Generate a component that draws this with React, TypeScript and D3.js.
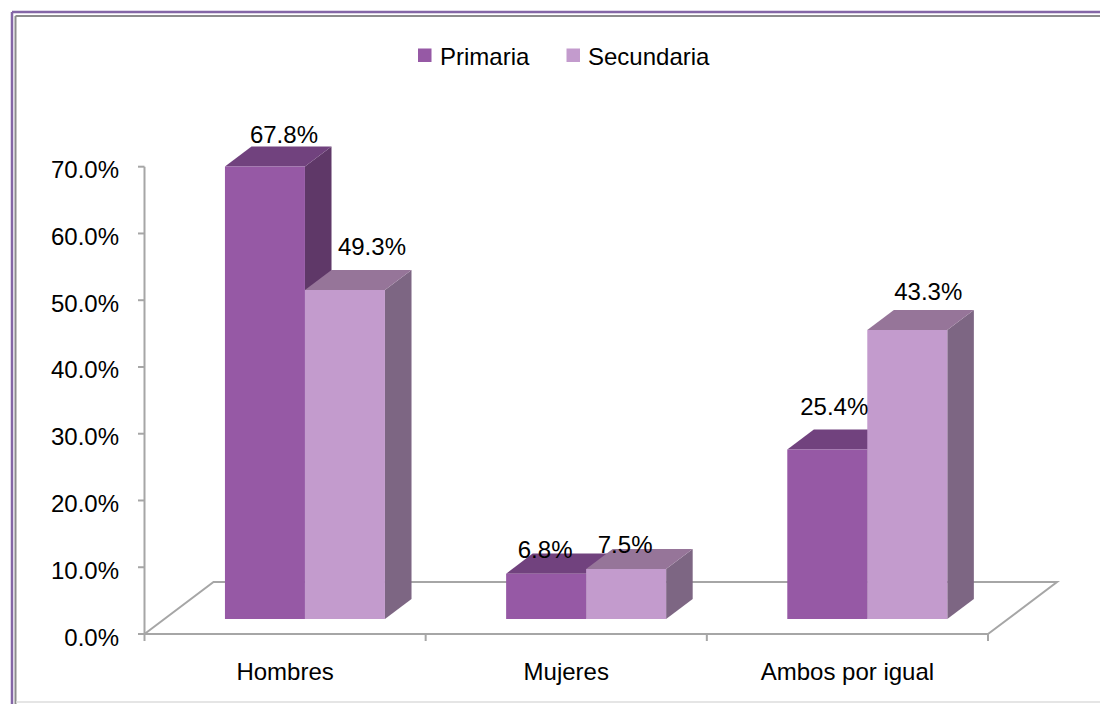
import React from "react";
import * as d3 from "d3";

const categories = ["Hombres", "Mujeres", "Ambos por igual"];
const seriesNames = ["Primaria", "Secundaria"];
const primaria = [67.8, 6.8, 25.4];
const secundaria = [49.3, 7.5, 43.3];
const yTicks = [0, 10, 20, 30, 40, 50, 60, 70];

// layout-only nudges for the data labels (relative to the front-top centre of each bar)
const labelNudge: [number, number][][] = [
  [[19, -23], [27, -35]],
  [[-1, -16], [-1, -16]],
  [[7, -34], [21, -30]],
];

const W = 1100;
const H = 704;
const FONT = "'Liberation Sans', Arial, sans-serif";

const faceColors = [
  { front: "#9659a5", top: "#71427e", side: "#5f3868" },
  { front: "#c39bcd", top: "#967599", side: "#7d6683" },
];

export default function App() {
  const x0 = 144.5;
  const x1 = 988;
  const yBase = 634;
  const yTop = 166.7;
  const depthX = 69;
  const depthY = -52;
  const zFront = 0.288;
  const zBack = 0.673;

  const xScale = d3.scaleBand<string>().domain(categories).range([x0, x1]).padding(0);
  const yScale = d3.scaleLinear().domain([0, 70]).range([yBase, yTop]);
  const inner = d3.scaleBand<string>().domain(seriesNames).range([-80, 80]).padding(0);

  const proj = (x: number, v: number, z: number): [number, number] => [
    x + z * depthX,
    yScale(v) + z * depthY,
  ];

  const values = [primaria, secundaria];

  const bars: React.ReactNode[] = [];
  const labels: React.ReactNode[] = [];
  categories.forEach((cat, ci) => {
    const cx = (xScale(cat) as number) + xScale.bandwidth() / 2;
    seriesNames.forEach((s, si) => {
      const v = values[si][ci];
      const xl = cx + (inner(s) as number);
      const xr = xl + inner.bandwidth();
      const fbl = proj(xl, 0, zFront);
      const fbr = proj(xr, 0, zFront);
      const ftl = proj(xl, v, zFront);
      const ftr = proj(xr, v, zFront);
      const btl = proj(xl, v, zBack);
      const btr = proj(xr, v, zBack);
      const bbr = proj(xr, 0, zBack);
      const pts = (a: [number, number][]) => a.map((p) => p.join(",")).join(" ");
      const c = faceColors[si];
      bars.push(
        <g key={`${ci}-${si}`}>
          <polygon points={pts([fbr, ftr, btr, bbr])} fill={c.side} />
          <polygon points={pts([ftl, ftr, btr, btl])} fill={c.top} />
          <polygon points={pts([fbl, ftl, ftr, fbr])} fill={c.front} />
        </g>
      );
      const [nx, ny] = labelNudge[ci][si];
      labels.push(
        <text
          key={`l-${ci}-${si}`}
          x={(xl + xr) / 2 + zFront * depthX + nx}
          y={ftl[1] + ny}
          textAnchor="middle"
          fontFamily={FONT}
          fontSize={24}
          fill="#000"
        >
          {v.toFixed(1)}%
        </text>
      );
    });
  });

  const gray = "#a6a6a6";

  return (
    <svg
      width={W}
      height={H}
      style={{ position: "absolute", left: 0, top: 0, display: "block", background: "#fff" }}
    >
      {/* frame */}
      <line x1={12} y1={12} x2={W} y2={12} stroke="#8466a6" strokeWidth={2.5} />
      <line x1={12} y1={12} x2={12} y2={H} stroke="#8466a6" strokeWidth={2.5} />
      <line x1={15.5} y1={16} x2={W} y2={16} stroke="#8c8c8c" strokeWidth={2} />
      <line x1={15.5} y1={16} x2={15.5} y2={H} stroke="#8c8c8c" strokeWidth={2} />
      <line x1={16} y1={702} x2={W} y2={702} stroke="#dcdcdc" strokeWidth={1.5} />

      {/* legend */}
      <g fontFamily={FONT} fontSize={24} fill="#000">
        <rect x={418} y={48.5} width={13.5} height={13.5} fill={faceColors[0].front} />
        <text x={440} y={64.5}>{seriesNames[0]}</text>
        <rect x={566.5} y={48.5} width={13.5} height={13.5} fill={faceColors[1].front} />
        <text x={588} y={64.5}>{seriesNames[1]}</text>
      </g>

      {/* floor back & sides */}
      <g stroke={gray} strokeWidth={2} fill="none">
        <polyline
          points={[proj(x0, 0, 0), proj(x0, 0, 1), proj(x1, 0, 1), proj(x1, 0, 0)]
            .map((p) => p.join(","))
            .join(" ")}
        />
      </g>

      {bars}

      {/* front floor edge & axes */}
      <g stroke={gray} strokeWidth={2} fill="none">
        <line x1={x0} y1={yBase} x2={x1} y2={yBase} />
        <line x1={x0} y1={yBase} x2={x0} y2={yTop} />
        {yTicks.map((t) => (
          <line key={`yt${t}`} x1={x0 - 6.5} y1={yScale(t)} x2={x0} y2={yScale(t)} />
        ))}
        {[...categories.map((c) => xScale(c) as number), x1].map((xx, i) => (
          <line key={`xt${i}`} x1={xx} y1={yBase} x2={xx} y2={yBase + 7} />
        ))}
      </g>

      <g fontFamily={FONT} fontSize={24} fill="#000">
        {yTicks.map((t) => (
          <text key={`yl${t}`} x={119} y={yScale(t) + 11.5} textAnchor="end">
            {t.toFixed(1)}%
          </text>
        ))}
        {categories.map((c) => (
          <text
            key={`xl${c}`}
            x={(xScale(c) as number) + xScale.bandwidth() / 2}
            y={680}
            textAnchor="middle"
          >
            {c}
          </text>
        ))}
      </g>

      {labels}
    </svg>
  );
}
